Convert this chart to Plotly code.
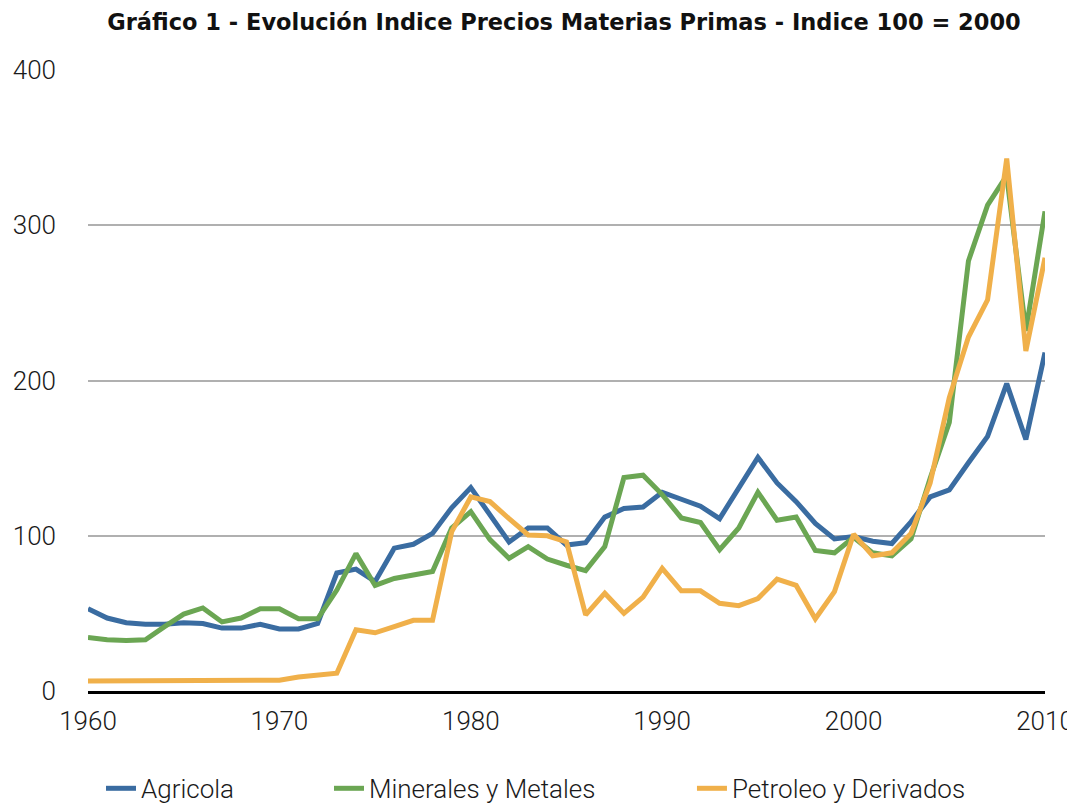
import plotly.graph_objects as go

years = list(range(1960, 2011))

agricola = [53, 47, 44, 43, 43, 44, 43.5, 40.5, 40.5, 43, 40,
            40, 43.5, 76, 78.5, 70.5, 92, 94.5, 101.5, 118, 131,
            113.5, 96, 105, 105, 94, 95.5, 112, 117.5, 118.5, 128,
            123.5, 119, 111, 131, 150.5, 134, 122, 108, 98, 99.5,
            96.5, 95, 109, 125, 129.5, 147, 164, 198, 162, 218]

minerales = [34.5, 33, 32.5, 33, 41.5, 49.5, 53.5, 44.5, 47, 53, 53,
             46.5, 46.5, 65, 88.5, 68, 72.5, 74.5, 77, 105, 115.5,
             97.5, 85.5, 93, 85, 81, 77.5, 93, 137.5, 139, 126.5,
             111.5, 108.5, 91, 105, 128, 110, 112, 90.5, 89, 99,
             89, 87, 98, 137, 173, 277, 313, 332, 232, 309]

petroleo = [6.5, 6.5, 7, 7, 7, 7, 7, 7, 7, 7, 7,
            9, 10, 11.5, 39.5, 37.5, 41.5, 45.5, 45.5, 102.5, 125,
            122, 111, 100.5, 100, 96, 49, 63, 50, 60.5, 79,
            64.5, 64.5, 56.5, 55, 59.5, 72, 68, 46.5, 64, 101,
            87, 89, 101.5, 134, 189, 228, 252, 343, 219, 279]

series_names = ["Agricola", "Minerales y Metales", "Petroleo y Derivados"]
series_values = [agricola, minerales, petroleo]
colors = ["#3a6ca1", "#6ba653", "#f0b04a"]

y_ticks = [0, 100, 200, 300, 400]
x_ticks = [1960, 1970, 1980, 1990, 2000, 2010]

title_text = "Gráfico 1 - Evolución Indice Precios Materias Primas - Indice 100 = 2000"

FONT = "Roboto, Liberation Sans, Arial, sans-serif"
TITLE_FONT = "DejaVu Sans, Liberation Sans, Arial, sans-serif"

legend_ids = ["legend", "legend2", "legend3"]
legend_x = [0.0136, 0.2518, 0.6311]

fig = go.Figure()
for name, vals, col, lid in zip(series_names, series_values, colors, legend_ids):
    fig.add_trace(go.Scatter(
        x=years, y=vals, mode="lines", name=name,
        line=dict(color=col, width=5), legend=lid,
    ))

legend_common = dict(orientation="h", xanchor="left", y=-0.119, yanchor="top",
                     font=dict(family=FONT, size=26, color="#1a1a1a", weight=300),
                     bgcolor="rgba(0,0,0,0)", itemwidth=30)

# page body has an 8px default margin, so the figure is offset by 8px
fig.update_layout(
    width=1067, height=800, autosize=False,
    paper_bgcolor="white", plot_bgcolor="white",
    margin=dict(l=80, r=30, t=62, b=117, autoexpand=False),
    font=dict(family=FONT, size=26, color="#1a1a1a"),
    title=dict(text="<b>" + title_text + "</b>", x=0.5211, xanchor="center",
               y=1 - 14 / 800, yanchor="middle",
               font=dict(family=TITLE_FONT, size=22.5, color="#111111")),
    showlegend=True,
    legend=dict(x=legend_x[0], **legend_common),
    legend2=dict(x=legend_x[1], **legend_common),
    legend3=dict(x=legend_x[2], **legend_common),
)

fig.update_xaxes(
    range=[1960, 2010], tickmode="array", tickvals=x_ticks,
    ticktext=[str(t) for t in x_ticks],
    showgrid=False, zeroline=False,
    showline=True, linecolor="#000000", linewidth=3,
    ticks="", ticklabelstandoff=5,
    tickfont=dict(family=FONT, size=26, color="#1a1a1a", weight=300),
)
fig.update_yaxes(
    range=[0, 400], tickmode="array", tickvals=y_ticks,
    ticktext=[str(t) for t in y_ticks],
    showgrid=True, gridcolor="#b0b0b0", gridwidth=2,
    zeroline=False, showline=False, ticks="",
    ticklabelstandoff=31,
    tickfont=dict(family=FONT, size=26, color="#1a1a1a", weight=300),
)

fig.write_html("out.html")
